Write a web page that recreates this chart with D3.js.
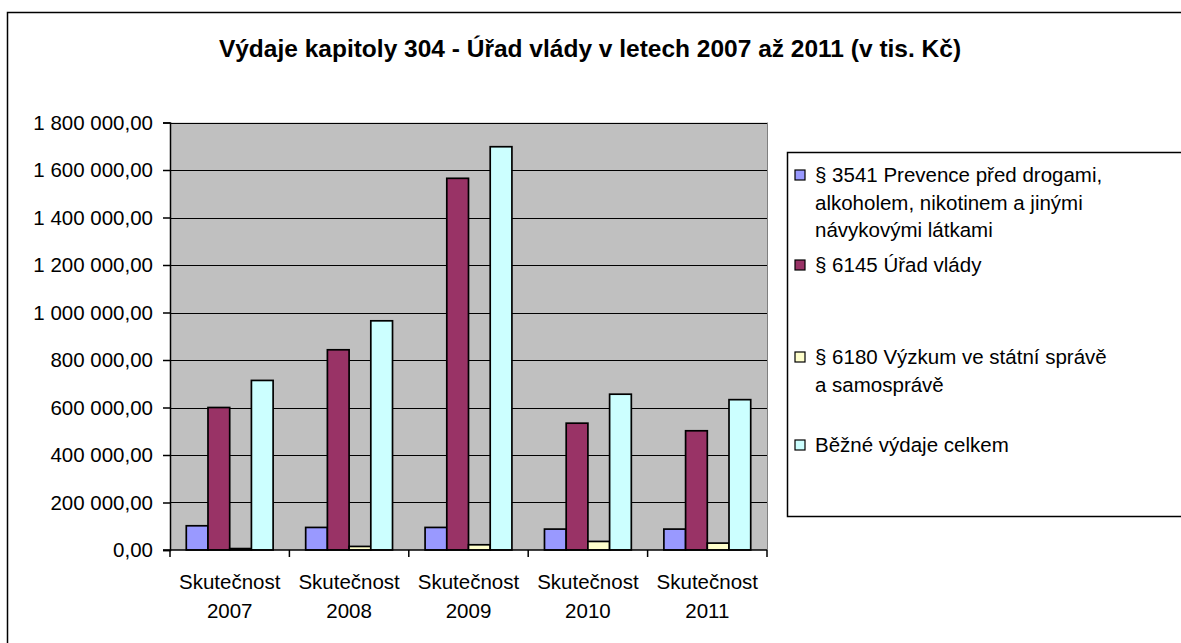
<!DOCTYPE html>
<html>
<head>
<meta charset="utf-8">
<script src="https://cdn.jsdelivr.net/npm/d3@7"></script>
<style>
    body { margin: 0; background: #fff; }
    svg { display: block; font-family: "Liberation Sans", Arial, sans-serif; }
</style>
</head>
<body>
<div id="chart"></div>
<script>
"use strict";

const categories = ["2007", "2008", "2009", "2010", "2011"];
const categoryPrefix = "Skutečnost";
const seriesNames = [
    ["§ 3541 Prevence před drogami,", "alkoholem, nikotinem a jinými", "návykovými látkami"],
    ["§ 6145 Úřad vlády"],
    ["§ 6180 Výzkum ve státní správě", "a samosprávě"],
    ["Běžné výdaje celkem"]
];
const prevence = [102000, 95000, 95000, 88000, 88000];
const uradVlady = [600000, 843000, 1565000, 534000, 502000];
const vyzkum = [6000, 15000, 22000, 36000, 29000];
const bezneVydaje = [714000, 965000, 1698000, 656000, 633000];
const yTicks = [0, 200000, 400000, 600000, 800000, 1000000, 1200000, 1400000, 1600000, 1800000];
const colors = ["#9999FF", "#993366", "#FFFFCC", "#CCFFFF"];

(function () {
    const width = 1181;
    const height = 643;
    const plot = { left: 170, right: 767, top: 122.5, bottom: 550 };
    const labelSize = "20.5px";

    const series = [prevence, uradVlady, vyzkum, bezneVydaje];

    const locale = d3.formatLocale({ decimal: ",", thousands: "\u00a0", grouping: [3], currency: ["", ""] });
    const fmt = locale.format(",.2f");

    const svg = d3.select("#chart").append("svg")
        .attr("width", width)
        .attr("height", height);

    // outer frame
    svg.append("rect")
        .attr("x", 7.5).attr("y", 12.5)
        .attr("width", width + 10).attr("height", height + 10)
        .attr("fill", "#fff").attr("stroke", "#000").attr("stroke-width", 1.5);

    svg.append("text")
        .attr("x", 590).attr("y", 57)
        .attr("text-anchor", "middle")
        .attr("font-size", "24.5px").attr("font-weight", "bold")
        .text("Výdaje kapitoly 304 - Úřad vlády v letech 2007 až 2011 (v tis. Kč)");

    const x0 = d3.scaleBand()
        .domain(categories)
        .range([plot.left, plot.right])
        .paddingInner(0).paddingOuter(0);

    // gap width 150% -> bars take 4/5.5 of the band
    const x1 = d3.scaleBand()
        .domain(d3.range(series.length))
        .range([0, x0.bandwidth()])
        .paddingInner(0)
        .paddingOuter(0.75);

    const y = d3.scaleLinear()
        .domain([0, 1800000])
        .range([plot.bottom, plot.top]);

    svg.append("rect")
        .attr("x", plot.left).attr("y", plot.top)
        .attr("width", plot.right - plot.left).attr("height", plot.bottom - plot.top)
        .attr("fill", "#C0C0C0");

    // gridlines
    svg.append("g")
        .selectAll("line")
        .data(yTicks.slice(1))
        .join("line")
        .attr("x1", plot.left).attr("x2", plot.right)
        .attr("y1", d => Math.round(y(d)) + 0.5).attr("y2", d => Math.round(y(d)) + 0.5)
        .attr("stroke", "#000").attr("stroke-width", 1.2);

    svg.append("line")
        .attr("x1", plot.right + 0.5).attr("x2", plot.right + 0.5)
        .attr("y1", plot.top).attr("y2", plot.bottom)
        .attr("stroke", "#808080");

    // bars
    const groups = svg.append("g")
        .selectAll("g")
        .data(categories)
        .join("g")
        .attr("transform", d => `translate(${x0(d)},0)`);

    groups.selectAll("rect")
        .data((d, i) => series.map((s, k) => ({ k: k, v: s[i] })))
        .join("rect")
        .attr("x", d => x1(d.k))
        .attr("y", d => y(d.v))
        .attr("width", x1.bandwidth())
        .attr("height", d => y(0) - y(d.v))
        .attr("fill", d => colors[d.k])
        .attr("stroke", "#000")
        .attr("stroke-width", 1.7);

    // y axis
    const yAxis = d3.axisLeft(y)
        .tickValues(yTicks)
        .tickFormat(fmt)
        .tickSize(7)
        .tickPadding(10);
    const gy = svg.append("g")
        .attr("transform", `translate(${plot.left},0)`)
        .call(yAxis);
    gy.select(".domain").attr("stroke", "#000").attr("stroke-width", 1.5);
    gy.selectAll(".tick line").attr("stroke", "#000").attr("stroke-width", 1.5);
    gy.selectAll(".tick text")
        .attr("font-size", labelSize).attr("fill", "#000")
        .attr("font-family", "Liberation Sans, Arial, sans-serif");

    // x axis
    svg.append("line")
        .attr("x1", plot.left - 7).attr("x2", plot.right)
        .attr("y1", plot.bottom).attr("y2", plot.bottom)
        .attr("stroke", "#000").attr("stroke-width", 1.5);
    const boundaries = categories.map(c => x0(c)).concat([x0(categories[categories.length - 1]) + x0.bandwidth()]);
    svg.append("g")
        .selectAll("line")
        .data(boundaries)
        .join("line")
        .attr("x1", d => d).attr("x2", d => d)
        .attr("y1", plot.bottom).attr("y2", plot.bottom + 7)
        .attr("stroke", "#000").attr("stroke-width", 1.5);

    const xl = svg.append("g")
        .selectAll("text")
        .data(categories)
        .join("text")
        .attr("x", d => x0(d) + x0.bandwidth() / 2)
        .attr("text-anchor", "middle")
        .attr("font-size", labelSize);
    xl.append("tspan").attr("x", d => x0(d) + x0.bandwidth() / 2).attr("y", 589).text(categoryPrefix);
    xl.append("tspan").attr("x", d => x0(d) + x0.bandwidth() / 2).attr("y", 618).text(d => d);

    // legend
    svg.append("rect")
        .attr("x", 787.5).attr("y", 152.5)
        .attr("width", 420).attr("height", 364)
        .attr("fill", "#fff").attr("stroke", "#000").attr("stroke-width", 1.5);

    const legendY = [175, 265, 357, 445];
    const lg = svg.append("g")
        .selectAll("g")
        .data(seriesNames)
        .join("g")
        .attr("transform", (d, i) => `translate(795,${legendY[i]})`);
    lg.append("rect")
        .attr("x", 0).attr("y", -5)
        .attr("width", 10).attr("height", 10)
        .attr("fill", (d, i) => colors[i])
        .attr("stroke", "#000").attr("stroke-width", 1.2);
    lg.append("text")
        .attr("font-size", labelSize)
        .selectAll("tspan")
        .data(d => d)
        .join("tspan")
        .attr("x", 20)
        .attr("y", (d, j) => 7 + j * 27.5)
        .text(d => d);
})();
</script>
</body>
</html>
